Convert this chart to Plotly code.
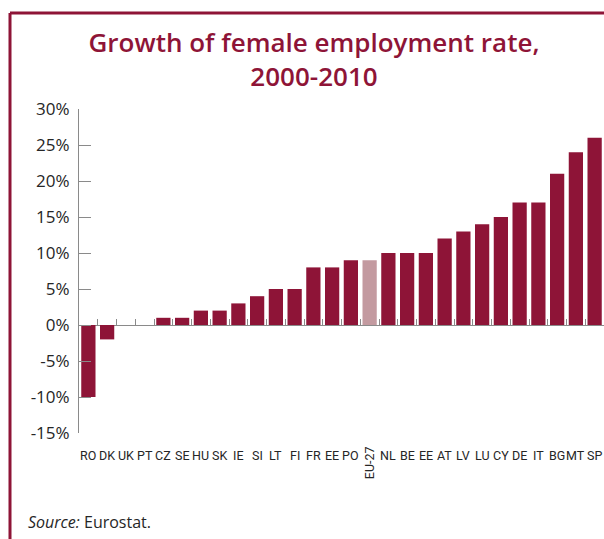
import plotly.graph_objects as go

categories = ["RO", "DK", "UK", "PT", "CZ", "SE", "HU", "SK", "IE", "SI", "LT", "FI", "FR", "EE",
              "PO", "EU-27", "NL", "BE", "EE", "AT", "LV", "LU", "CY", "DE", "IT", "BG", "MT", "SP"]
values = [-10, -2, 0, 0, 1, 1, 2, 2, 3, 4, 5, 5, 8, 8, 9, 9, 10, 10, 10, 12, 13, 14, 15, 17, 17, 21, 24, 26]
highlight = "EU-27"
y_ticks = [-15, -10, -5, 0, 5, 10, 15, 20, 25, 30]
y_ticktext = [f"{v}%" for v in y_ticks]

DARK = "#8E1437"
LIGHT = "#C39AA0"
AXIS = "#8a8a8a"
TXT = "#262626"
FONT = "Open Sans"
NARROW = "Roboto"

xs = list(range(len(categories)))
colors = [LIGHT if c == highlight else DARK for c in categories]

fig = go.Figure()
fig.add_trace(go.Bar(x=xs, y=values, marker=dict(color=colors, line=dict(width=0)),
                     width=0.76, hoverinfo="x+y", showlegend=False))
fig.add_trace(go.Scatter(x=[xs[0]], y=[0], xaxis="x2", mode="markers",
                         marker=dict(opacity=0), showlegend=False, hoverinfo="skip"))

W, H = 604, 539
L, R, T, B = 79, 0, 109, 106
pw, ph = W - L - R, H - T - B

fig.update_layout(
    width=W, height=H,
    margin=dict(l=L, r=R, t=T, b=B, autoexpand=False),
    plot_bgcolor="white", paper_bgcolor="white",
    font=dict(family=FONT, color=TXT),
    xaxis=dict(range=[-0.5, len(categories) - 0.5], showgrid=False, zeroline=False,
               showline=False, showticklabels=False, ticks=""),
    xaxis2=dict(range=[-0.5, len(categories) - 0.5], overlaying="x", anchor="free",
                position=15 / 45, showline=True, linecolor=AXIS, linewidth=1,
                tickmode="array", tickvals=[i + 0.5 for i in xs[:-1]],
                ticks="inside", ticklen=6, tickcolor=AXIS, tickwidth=1,
                showticklabels=False, showgrid=False, zeroline=False, layer="below traces"),
    yaxis=dict(range=[-15, 30], tickmode="array", tickvals=y_ticks, ticktext=y_ticktext,
               ticks="inside", ticklen=12, tickcolor=AXIS, tickwidth=1,
               showline=True, linecolor=AXIS, linewidth=1, showgrid=False, zeroline=False,
               tickfont=dict(size=17, color=TXT, family=FONT), ticklabelstandoff=5),
    title=dict(text="Growth of female employment rate,<br>2000-2010", x=(314 - L) / pw,
               xref="paper", xanchor="center",
               y=1 - 52 / H, yanchor="middle",
               font=dict(size=26, color=DARK, family=FONT, weight=600)),
)

ann = []
for i, c in enumerate(categories):
    if c == highlight:
        ann.append(dict(x=i, y=0, xref="x", yref="paper", text=c, showarrow=False,
                        textangle=-90, xanchor="center", yanchor="top", yshift=-11,
                        font=dict(size=12.5, color=TXT, family=NARROW)))
    else:
        ann.append(dict(x=i, y=0, xref="x", yref="paper", text=c, showarrow=False,
                        xanchor="center", yanchor="top", yshift=-13,
                        font=dict(size=12.5, color=TXT, family=NARROW)))
ann.append(dict(x=(26 - L) / pw, y=((H - B) - 522) / ph, xref="paper", yref="paper",
                xanchor="left", yanchor="middle", showarrow=False,
                text="<i>Source:</i> Eurostat.",
                font=dict(size=16, color=TXT, family=FONT)))
fig.update_layout(annotations=ann)

fx = (10 - L) / pw
fy = ((H - B) - 13) / ph
fig.update_layout(shapes=[
    dict(type="line", xref="paper", yref="paper", x0=fx, x1=(W + 5 - L) / pw, y0=fy, y1=fy,
         line=dict(color=DARK, width=3)),
    dict(type="line", xref="paper", yref="paper", x0=fx, x1=fx, y0=fy, y1=((H - B) - H - 5) / ph,
         line=dict(color=DARK, width=3)),
])

fig.write_html("out.html", config={"displayModeBar": False},
               post_script="document.body.style.margin='0';document.body.style.overflow='hidden';")
